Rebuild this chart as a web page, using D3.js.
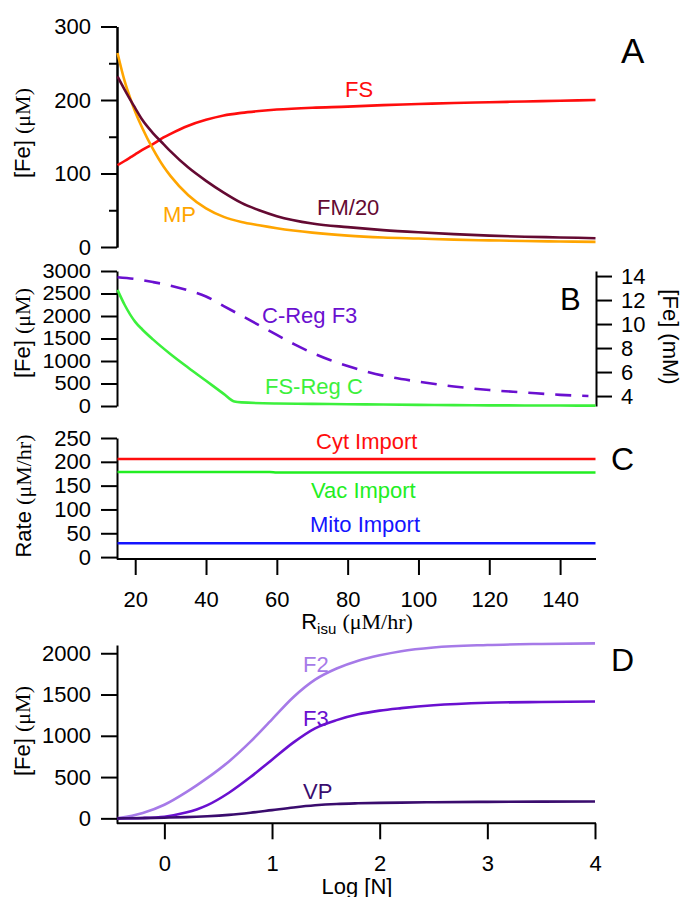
<!DOCTYPE html>
<html>
<head>
<meta charset="utf-8">
<script src="https://cdn.jsdelivr.net/npm/d3@7"></script>
<style>
  body { margin: 0; background: #fff; }
  svg { display: block; font-family: "Liberation Sans", Arial, sans-serif; }
  .axis path, .axis line { stroke: #000; stroke-width: 2; }
  .axis text { font-size: 22px; fill: #000; font-family: "Liberation Sans", Arial, sans-serif; }
  .axis.tight text { font-size: 19.5px; }
  .series { fill: none; stroke-width: 2.6; stroke-linejoin: round; }
  .label { font-size: 22px; }
  .title { font-size: 22px; fill: #000; }
  .serif { font-family: "Liberation Serif", "Times New Roman", serif; }
</style>
</head>
<body>
<svg id="chart"></svg>
<script>
// ---- data ----
// panel A: R_isu (uM/hr) vs [Fe] (uM)
const risuA = [15, 17, 19, 20, 22, 25, 28, 30, 35, 40, 45, 50, 55, 60, 70, 80, 90, 100, 110, 120, 130, 140, 150];
const fsA   = [111.5, 117, 123, 126, 132, 140, 149, 154, 165, 173, 179, 182.5, 185, 187, 189.5, 191, 193, 194.5, 196, 197, 198, 199, 200];
const mpA   = [264, 226, 197, 184, 162, 133.5, 109.5, 96.5, 70.5, 52.5, 41, 34, 29.5, 25.5, 19.5, 15.5, 13, 11.5, 10, 9, 8.2, 7.5, 7];
const fm20A = [232, 214, 197, 189, 173, 155, 140, 130, 108, 90, 74, 60, 50, 42, 32, 27, 23, 20, 17.5, 15.5, 14, 13, 12];

// panel B: FS-Reg C (uM, left) and C-Reg F3 (mM, right)
const risuB  = [15, 17, 20, 22, 25, 30, 35, 40, 45, 48, 50, 60, 70, 80, 90, 100, 110, 120, 130, 140, 150];
const fsRegC = [2580, 2250, 1870, 1700, 1480, 1150, 850, 560, 270, 100, 80, 55, 48, 40, 33, 25, 20, 15, 12, 10, 8];
const risuB2 = [15, 20, 25, 30, 35, 40, 45, 50, 55, 60, 65, 70, 75, 80, 90, 100, 110, 120, 130, 140, 148];
const cRegF3 = [13.9, 13.75, 13.5, 13.2, 12.8, 12.3, 11.5, 10.7, 9.9, 9.1, 8.3, 7.6, 7.0, 6.5, 5.7, 5.2, 4.8, 4.5, 4.3, 4.1, 4.0];

// panel C: import rates (uM/hr)
const risuC      = [15, 58, 60, 150];
const cytImport  = [206, 206, 206, 206];
const vacImport  = [178.5, 178.5, 177.5, 177.5];
const mitoImport = [29, 29, 29, 29];

// panel D: Log [N] vs [Fe] (uM)
const logN = [-0.44, -0.2, 0, 0.2, 0.3, 0.4, 0.6, 0.8, 1.0, 1.2, 1.4, 1.6, 1.8, 2.0, 2.2, 2.5, 3.0, 3.5, 4.0];
const f2   = [0, 65, 165, 315, 400, 490, 690, 930, 1200, 1470, 1680, 1815, 1910, 1975, 2025, 2070, 2100, 2113, 2120];
const f3   = [0, 5, 20, 70, 108, 160, 310, 500, 710, 920, 1090, 1190, 1260, 1305, 1335, 1370, 1400, 1410, 1415];
const vp   = [0, 3, 8, 15, 19, 25, 42, 68, 100, 132, 158, 174, 182, 187, 191, 195, 200, 203, 205];

// tick values
const risuTicks = [20, 40, 60, 80, 100, 120, 140];
const logNTicks = [0, 1, 2, 3, 4];
const ticksA = [0, 100, 200, 300];
const minorA = [50, 150, 250];
const ticksB = [0, 500, 1000, 1500, 2000, 2500, 3000];
const ticksBRight = [4, 6, 8, 10, 12, 14];
const ticksC = [0, 50, 100, 150, 200, 250];
const ticksD = [0, 500, 1000, 1500, 2000];

// ---- svg ----
const svg = d3.select('#chart')
    .attr('width', 682)
    .attr('height', 897);

const xLeft = 117, xRight = 596;
const fmt = d3.format('d');

// scales
const xRisu = d3.scaleLinear().domain([15, 150]).range([117.5, 595.5]);
const xLog  = d3.scaleLinear().domain([-0.44, 4]).range([117, 595]);
const yA  = d3.scaleLinear().domain([0, 300]).range([247, 26.5]);
const yB  = d3.scaleLinear().domain([0, 3000]).range([406, 271]);
const yB2 = d3.scaleLinear().domain([3.17, 14.42]).range([406, 271]);
const yC  = d3.scaleLinear().domain([-4, 250]).range([559, 438]);
const yD  = d3.scaleLinear().domain([-60, 2100]).range([823.3, 645]);

function leftAxis(scale, ticks, cls) {
  return svg.append('g')
      .attr('class', 'axis ' + (cls || ''))
      .attr('transform', `translate(${xLeft},0)`)
      .call(d3.axisLeft(scale).tickValues(ticks).tickFormat(fmt)
        .tickSize(16).tickPadding(10).tickSizeOuter(0));
}

function addLine(xs, ys, x, y, color, dash) {
  const pts = xs.map((d, i) => [d, ys[i]]);
  svg.append('path')
      .datum(pts)
      .attr('class', 'series')
      .attr('stroke', color)
      .attr('stroke-dasharray', dash || null)
      .attr('d', d3.line().x(d => x(d[0])).y(d => y(d[1])).curve(d3.curveMonotoneX));
}

function label(txt, x, y, color, size) {
  svg.append('text')
      .attr('class', 'label')
      .attr('x', x).attr('y', y)
      .attr('fill', color)
      .style('font-size', size ? size + 'px' : null)
      .text(txt);
}

function axisTitle(x, y, angle, parts) {
  const t = svg.append('text')
      .attr('class', 'title')
      .attr('text-anchor', 'middle')
      .attr('transform', `translate(${x},${y}) rotate(${angle})`);
  parts.forEach(p => {
    t.append('tspan').attr('class', p.serif ? 'serif' : null).text(p.t);
  });
}

// ---- panel A ----
leftAxis(yA, ticksA);
svg.append('g')
    .attr('class', 'axis')
    .attr('transform', `translate(${xLeft},0)`)
    .call(d3.axisLeft(yA).tickValues(minorA).tickSize(8).tickFormat('').tickSizeOuter(0));

addLine(risuA, fsA, xRisu, yA, '#ff0d0d');
addLine(risuA, mpA, xRisu, yA, '#ffa500');
addLine(risuA, fm20A, xRisu, yA, '#640a32');

label('FS', 345, 96.5, '#ff0d0d');
label('MP', 163, 221.5, '#ffa500');
label('FM/20', 317, 215, '#640a32');
label('A', 621, 63, '#000', 35);
axisTitle(29.5, 133, -90, [{t: '[Fe] '}, {t: '(μM)', serif: true}]);

// ---- panel B ----
// labels here sit close together: smaller type, stretched back to the same width
leftAxis(yB, ticksB, 'tight')
    .selectAll('.tick text')
    .each(function() {
      const w = this.getComputedTextLength();
      d3.select(this).attr('textLength', w * 1.12).attr('lengthAdjust', 'spacingAndGlyphs');
    });
svg.append('g')
    .attr('class', 'axis')
    .attr('transform', `translate(${xRight},0)`)
    .call(d3.axisRight(yB2).tickValues(ticksBRight).tickFormat(fmt)
      .tickSize(16).tickPadding(9).tickSizeOuter(0));

addLine(risuB, fsRegC, xRisu, yB, '#3cf03c');
addLine(risuB2, cRegF3, xRisu, yB2, '#6a10d0', '16,11');

label('C-Reg F3', 262, 323, '#6a10d0');
label('FS-Reg C', 265, 394, '#3cf03c');
label('B', 560, 310, '#000', 31);
axisTitle(29.5, 333, -90, [{t: '[Fe] '}, {t: '(μM)', serif: true}]);
axisTitle(663, 337, 90, [{t: '[Fe] (mM)'}]);

// ---- panel C ----
leftAxis(yC, ticksC);
svg.append('g')
    .attr('class', 'axis')
    .attr('transform', 'translate(0,559)')
    .call(d3.axisBottom(xRisu).tickValues(risuTicks).tickFormat(fmt)
      .tickSize(16).tickPadding(16).tickSizeOuter(0))
    .call(g => g.select('.domain').attr('d', `M${xLeft},0H${xRight}`));

addLine(risuC, cytImport, xRisu, yC, '#ff0d0d');
addLine(risuC, vacImport, xRisu, yC, '#22ee22');
addLine(risuC, mitoImport, xRisu, yC, '#1414ff');

label('Cyt Import', 316, 449, '#ff0d0d');
label('Vac Import', 311, 498, '#22ee22');
label('Mito Import', 310, 532, '#1414ff');
label('C', 611, 470, '#000', 32);
axisTitle(31, 496, -90, [{t: 'Rate '}, {t: '(μM/hr)', serif: true}]);

const xt = svg.append('text')
    .attr('class', 'title')
    .attr('text-anchor', 'middle')
    .attr('x', 357).attr('y', 629);
xt.append('tspan').text('R');
xt.append('tspan').attr('dy', 5).style('font-size', '15px').text('isu');
xt.append('tspan').attr('dy', -5).text(' ');
xt.append('tspan').attr('class', 'serif').text('(μM/hr)');

// ---- panel D ----
leftAxis(yD, ticksD);
svg.append('g')
    .attr('class', 'axis')
    .attr('transform', 'translate(0,823.3)')
    .call(d3.axisBottom(xLog).tickValues(logNTicks).tickFormat(fmt)
      .tickSize(16).tickPadding(16).tickSizeOuter(0))
    .call(g => g.select('.domain').attr('d', `M${xLeft},0H${xRight}`));

addLine(logN, f2, xLog, yD, '#a67ae8');
addLine(logN, f3, xLog, yD, '#6a10d0');
addLine(logN, vp, xLog, yD, '#3a0c6e');

label('F2', 303, 672, '#a67ae8');
label('F3', 303, 725.5, '#6a10d0');
label('VP', 303, 799, '#3a0c6e');
label('D', 611, 671, '#000', 32);
axisTitle(29.5, 731, -90, [{t: '[Fe] '}, {t: '(μM)', serif: true}]);

// sits on the bottom edge, partly cut, as in the original figure
svg.append('text')
    .attr('class', 'title')
    .attr('text-anchor', 'middle')
    .attr('x', 357).attr('y', 894)
    .text('Log [N]');
</script>
</body>
</html>
